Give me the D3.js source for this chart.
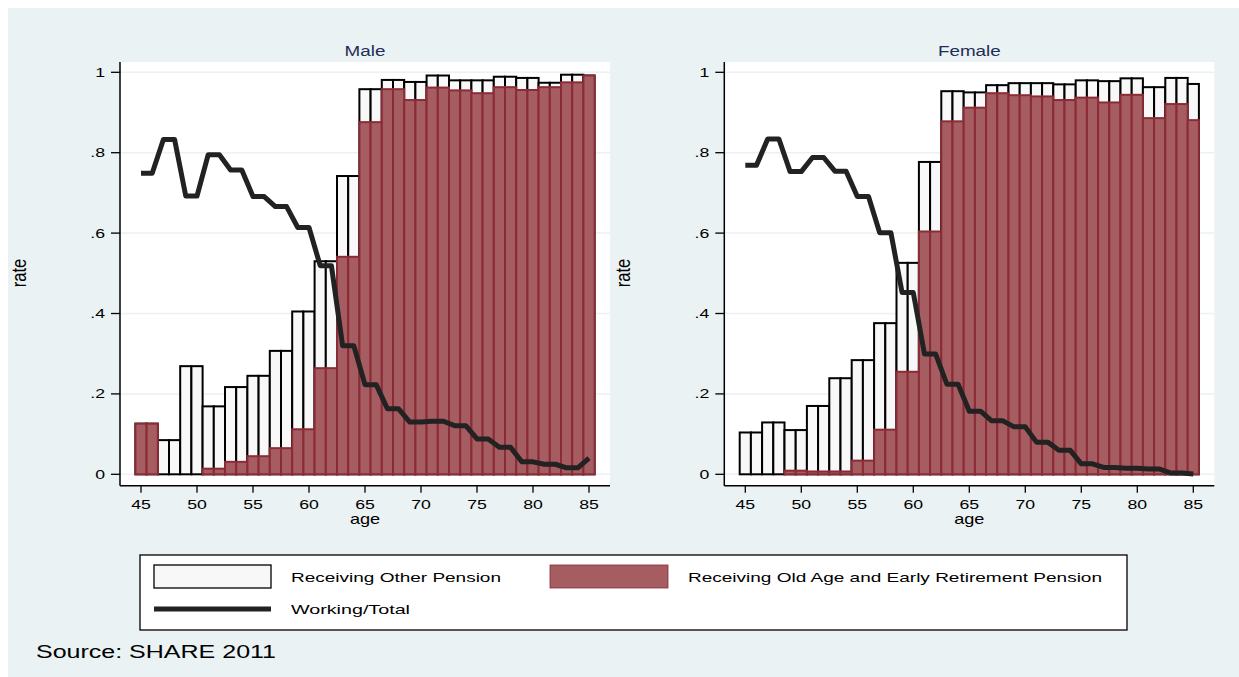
<!DOCTYPE html>
<html>
<head>
<meta charset="utf-8">
<script src="https://cdn.jsdelivr.net/npm/d3@7/dist/d3.min.js"></script>
<style>
  html, body { margin: 0; padding: 0; background: #ffffff; }
  svg { display: block; }
  text { font-family: "Liberation Sans", Arial, sans-serif; }
</style>
</head>
<body>
<svg id="chart" width="1239" height="677"></svg>
<script>
// ---------------- DATA ----------------
const ages = d3.range(45, 86); // 45..85
const yTicks = [0, 0.2, 0.4, 0.6, 0.8, 1];
const yTickLabels = ["0", ".2", ".4", ".6", ".8", "1"];
const xTicks = [45, 50, 55, 60, 65, 70, 75, 80, 85];
const panelTitles = ["Male", "Female"];
const legendLabels = ["Receiving Other Pension", "Receiving Old Age and Early Retirement Pension", "Working/Total"];
const sourceText = "Source: SHARE 2011";

// Male: total pension receipt (other + old age), old-age/early retirement, working share
const maleTotal = [.126,.126,.085,.085,.269,.269,.169,.169,.217,.217,.245,.245,.307,.307,.405,.405,.530,.530,.742,.742,
  .958,.958,.981,.981,.976,.976,.992,.992,.980,.980,.980,.980,.989,.989,.986,.986,.974,.974,.994,.994,.992];
const maleOldAge = [.126,.126,0,0,0,0,.014,.014,.031,.031,.045,.045,.065,.065,.112,.112,.264,.264,.541,.541,
  .876,.876,.958,.958,.931,.931,.962,.962,.955,.955,.948,.948,.963,.963,.956,.956,.963,.963,.975,.975,.992];
const maleWorking = [.749,.749,.833,.833,.692,.692,.795,.795,.757,.757,.691,.691,.666,.666,.614,.614,.519,.519,.320,.320,
  .223,.223,.163,.163,.130,.130,.132,.132,.121,.121,.088,.088,.067,.067,.031,.031,.025,.025,.016,.016,.040];

// Female
const femaleTotal = [.104,.104,.129,.129,.110,.110,.170,.170,.239,.239,.284,.284,.376,.376,.526,.526,.777,.777,.953,.953,
  .950,.950,.968,.968,.973,.973,.973,.973,.970,.970,.980,.980,.978,.978,.985,.985,.963,.963,.986,.986,.971];
const femaleOldAge = [0,0,0,0,.009,.009,.007,.007,.007,.007,.034,.034,.111,.111,.255,.255,.604,.604,.878,.878,
  .912,.912,.948,.948,.943,.943,.940,.940,.931,.931,.937,.937,.925,.925,.944,.944,.886,.886,.921,.921,.881];
const femaleWorking = [.769,.769,.834,.834,.753,.753,.788,.788,.754,.754,.691,.691,.601,.601,.452,.452,.299,.299,.224,.224,
  .157,.157,.133,.133,.118,.118,.080,.080,.060,.060,.026,.026,.017,.017,.015,.015,.013,.013,.003,.003,.001];

const panels = [
  { title: panelTitles[0], total: maleTotal, oldAge: maleOldAge, working: maleWorking, x0: 141 },
  { title: panelTitles[1], total: femaleTotal, oldAge: femaleOldAge, working: femaleWorking, x0: 745.3 }
];

// ---------------- STYLE ----------------
const BG = "#eaf2f3";
const RED = "#a55d62";
const RED_STROKE = "#8a2b36";
const WHITE_BAR = "#f8f8f8";
const LINE = "#222222";
const TITLE_COL = "#1f2d57";
const SX = 1.36; // horizontal text stretch of the original raster

const svg = d3.select("#chart");
svg.append("rect").attr("x", 8).attr("y", 8).attr("width", 1231).attr("height", 669).attr("fill", BG);

const y = d3.scaleLinear().domain([0, 1]).range([474.3, 72.3]);
const plotTop = 62, plotBottom = 485.7;

function stretchedText(g, x, yy, txt, size, anchor, sx, color) {
  const t = g.append("text")
    .attr("transform", `translate(${x},${yy}) scale(${sx},1)`)
    .attr("font-size", size)
    .attr("text-anchor", anchor)
    .attr("fill", color || "#000")
    .text(txt);
  return t;
}

panels.forEach(p => {
  const x = d3.scaleLinear().domain([45, 85]).range([p.x0, p.x0 + 448]);
  const bw = x(46) - x(45);
  const left = x(43.125), right = x(86.875);
  const g = svg.append("g");

  // plot region
  g.append("rect").attr("x", left).attr("y", plotTop).attr("width", right - left)
    .attr("height", plotBottom - plotTop).attr("fill", "#ffffff");

  // gridlines
  g.selectAll(".grid").data(yTicks).enter().append("line")
    .attr("x1", left).attr("x2", right)
    .attr("y1", d => y(d)).attr("y2", d => y(d))
    .attr("stroke", BG).attr("stroke-width", 1.5);

  // total (other pension) bars
  const rows = ages.map((a, i) => ({ age: a, total: p.total[i], old: p.oldAge[i], work: p.working[i] }));
  g.selectAll(".tot").data(rows).enter().append("rect")
    .attr("x", d => x(d.age) - bw / 2).attr("width", bw)
    .attr("y", d => y(d.total)).attr("height", d => y(0) - y(d.total))
    .attr("fill", WHITE_BAR).attr("stroke", "#000").attr("stroke-width", 2);

  // old-age bars
  g.selectAll(".old").data(rows.filter(d => d.old > 0)).enter().append("rect")
    .attr("x", d => x(d.age) - bw / 2).attr("width", bw)
    .attr("y", d => y(d.old)).attr("height", d => y(0) - y(d.old))
    .attr("fill", RED).attr("stroke", RED_STROKE).attr("stroke-width", 2);

  // working line
  const line = d3.line().x(d => x(d.age)).y(d => y(d.work));
  g.append("path").datum(rows).attr("d", line)
    .attr("fill", "none").attr("stroke", LINE).attr("stroke-width", 5)
    .attr("stroke-linejoin", "round");

  // axes
  g.append("line").attr("x1", left).attr("x2", left).attr("y1", plotTop).attr("y2", plotBottom)
    .attr("stroke", "#000").attr("stroke-width", 1.5);
  g.append("line").attr("x1", left).attr("x2", right).attr("y1", plotBottom).attr("y2", plotBottom)
    .attr("stroke", "#000").attr("stroke-width", 1.5);

  yTicks.forEach((v, i) => {
    g.append("line").attr("x1", left - 9).attr("x2", left).attr("y1", y(v)).attr("y2", y(v))
      .attr("stroke", "#000").attr("stroke-width", 1.3);
    stretchedText(g, left - 15, y(v) + 4.5, yTickLabels[i], 13, "end", SX);
  });
  xTicks.forEach(v => {
    g.append("line").attr("x1", x(v)).attr("x2", x(v)).attr("y1", plotBottom).attr("y2", plotBottom + 7)
      .attr("stroke", "#000").attr("stroke-width", 1.3);
    stretchedText(g, x(v), 509, String(v), 13, "middle", SX);
  });

  const cx = (left + right) / 2;
  stretchedText(g, cx, 524, "age", 14.5, "middle", 1.25);
  stretchedText(g, cx, 56, p.title, 14.5, "middle", 1.3, TITLE_COL);

  g.append("text")
    .attr("transform", `translate(${left - 94},273) scale(1.25,1) rotate(-90)`)
    .attr("font-size", 16.5).attr("text-anchor", "middle").attr("fill", "#000")
    .text("rate");
});

// ---------------- LEGEND ----------------
const lg = svg.append("g");
lg.append("rect").attr("x", 140).attr("y", 555).attr("width", 987).attr("height", 75)
  .attr("fill", "#ffffff").attr("stroke", "#000").attr("stroke-width", 1.3);
lg.append("rect").attr("x", 154).attr("y", 565).attr("width", 117).attr("height", 23)
  .attr("fill", WHITE_BAR).attr("stroke", "#000").attr("stroke-width", 1.3);
lg.append("rect").attr("x", 550).attr("y", 565).attr("width", 118).attr("height", 23)
  .attr("fill", RED).attr("stroke", RED_STROKE).attr("stroke-width", 0.8);
lg.append("line").attr("x1", 154).attr("x2", 271).attr("y1", 609).attr("y2", 609)
  .attr("stroke", LINE).attr("stroke-width", 5);
lg.append("text").attr("x", 291).attr("y", 582).attr("font-size", 13.5)
  .attr("textLength", 210).attr("lengthAdjust", "spacingAndGlyphs").text(legendLabels[0]);
lg.append("text").attr("x", 688).attr("y", 582).attr("font-size", 13.5)
  .attr("textLength", 414).attr("lengthAdjust", "spacingAndGlyphs").text(legendLabels[1]);
lg.append("text").attr("x", 291).attr("y", 614).attr("font-size", 13.5)
  .attr("textLength", 119).attr("lengthAdjust", "spacingAndGlyphs").text(legendLabels[2]);

// source
svg.append("text").attr("x", 36).attr("y", 658).attr("font-size", 18)
  .attr("textLength", 240).attr("lengthAdjust", "spacingAndGlyphs").text(sourceText);
</script>
</body>
</html>
